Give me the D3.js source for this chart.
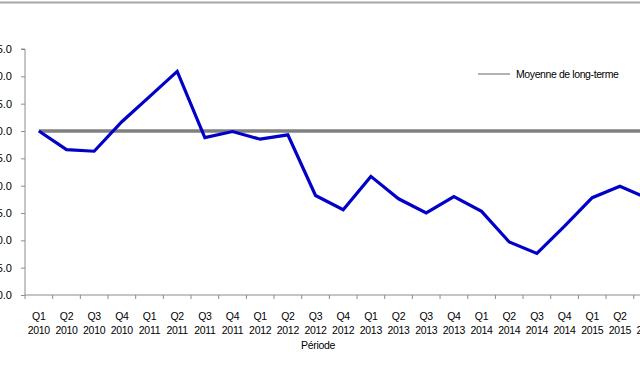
<!DOCTYPE html>
<html><head><meta charset="utf-8">
<script src="https://cdn.jsdelivr.net/npm/d3@7"></script>
<style>body{margin:0;background:#fff;}svg{display:block;font-family:"Liberation Sans",Arial,sans-serif;}</style>
</head><body>
<svg id="c" width="640" height="370"></svg>
<script>
const quarters = ["Q1","Q2","Q3","Q4","Q1","Q2","Q3","Q4","Q1","Q2","Q3","Q4","Q1","Q2","Q3","Q4","Q1","Q2","Q3","Q4","Q1","Q2","Q3"];
const years = ["2010","2010","2010","2010","2011","2011","2011","2011","2012","2012","2012","2012","2013","2013","2013","2013","2014","2014","2014","2014","2015","2015","2015"];
const values = [100.0,96.6,96.3,101.7,106.3,110.9,98.8,99.9,98.5,99.3,88.2,85.6,91.7,87.6,85.0,88.0,85.3,79.7,77.6,82.6,87.8,89.9,87.7];
const longTermMean = 100.0;
const yTicks = [70,75,80,85,90,95,100,105,110,115];
const legendLabel = "Moyenne de long-terme";
const xTitle = "Période";

const svg = d3.select("#c");
const cats = quarters.map((q,i)=>q+" "+years[i]);
const x = d3.scaleBand().domain(cats).range([25, 25 + 27.67*cats.length]).padding(0);
const y = d3.scaleLinear().domain([70,115]).range([295,49]);

// top border
svg.append("line").attr("x1",0).attr("x2",640).attr("y1",2.5).attr("y2",2.5)
  .attr("stroke","#a6a6a6").attr("stroke-width",2);

// y axis
const ya = svg.append("g").attr("transform","translate(25,0)")
  .call(d3.axisLeft(y).tickValues(yTicks).tickFormat(d3.format(".1f")).tickSize(4).tickPadding(9));
ya.select(".domain").attr("stroke","#8c8c8c").attr("d","M-4,"+y(115)+"H0V"+y(70));
ya.selectAll(".tick line").attr("stroke","#8c8c8c");
ya.selectAll("text").attr("font-size","11px").attr("fill","#000").attr("font-family","Liberation Sans, Arial, sans-serif");

// x axis
const xa = svg.append("g").attr("transform","translate(0,295)");
xa.append("line").attr("x1",25).attr("x2",640).attr("stroke","#8c8c8c");
const bounds = cats.map(c=>x(c)).concat([x(cats[cats.length-1])+x.bandwidth()]);
xa.selectAll("line.tk").data(bounds).enter().append("line").attr("class","tk")
  .attr("x1",d=>d).attr("x2",d=>d).attr("y1",0).attr("y2",4).attr("stroke","#8c8c8c");
const lab = xa.selectAll("text.lb").data(cats).enter().append("text").attr("class","lb")
  .attr("text-anchor","middle").attr("font-size","10.5px").attr("fill","#000")
  .attr("letter-spacing","-0.3px");
lab.append("tspan").attr("x",d=>x(d)+x.bandwidth()/2).attr("y",25).text((d,i)=>quarters[i]);
lab.append("tspan").attr("x",d=>x(d)+x.bandwidth()/2).attr("y",39).text((d,i)=>years[i]);

svg.append("text").attr("x",318).attr("y",349).attr("text-anchor","middle")
  .attr("font-size","10.5px").attr("letter-spacing","-0.3px").text(xTitle);

// long-term mean
const cx = c=>x(c)+x.bandwidth()/2;
svg.append("line").attr("x1",cx(cats[0])).attr("x2",660)
  .attr("y1",y(longTermMean)).attr("y2",y(longTermMean))
  .attr("stroke","#808080").attr("stroke-width",3.5);

// series line
const line = d3.line().x((d,i)=>cx(cats[i])).y(d=>y(d));
svg.append("path").datum(values).attr("d",line).attr("fill","none")
  .attr("stroke","#0000c8").attr("stroke-width",3.2).attr("stroke-linejoin","miter");

// legend
svg.append("line").attr("x1",478).attr("x2",510).attr("y1",74).attr("y2",74)
  .attr("stroke","#9a9a9a").attr("stroke-width",1.5);
svg.append("text").attr("x",516).attr("y",78).attr("font-size","10.5px")
  .attr("letter-spacing","-0.4px").text(legendLabel);
</script>
</body></html>
